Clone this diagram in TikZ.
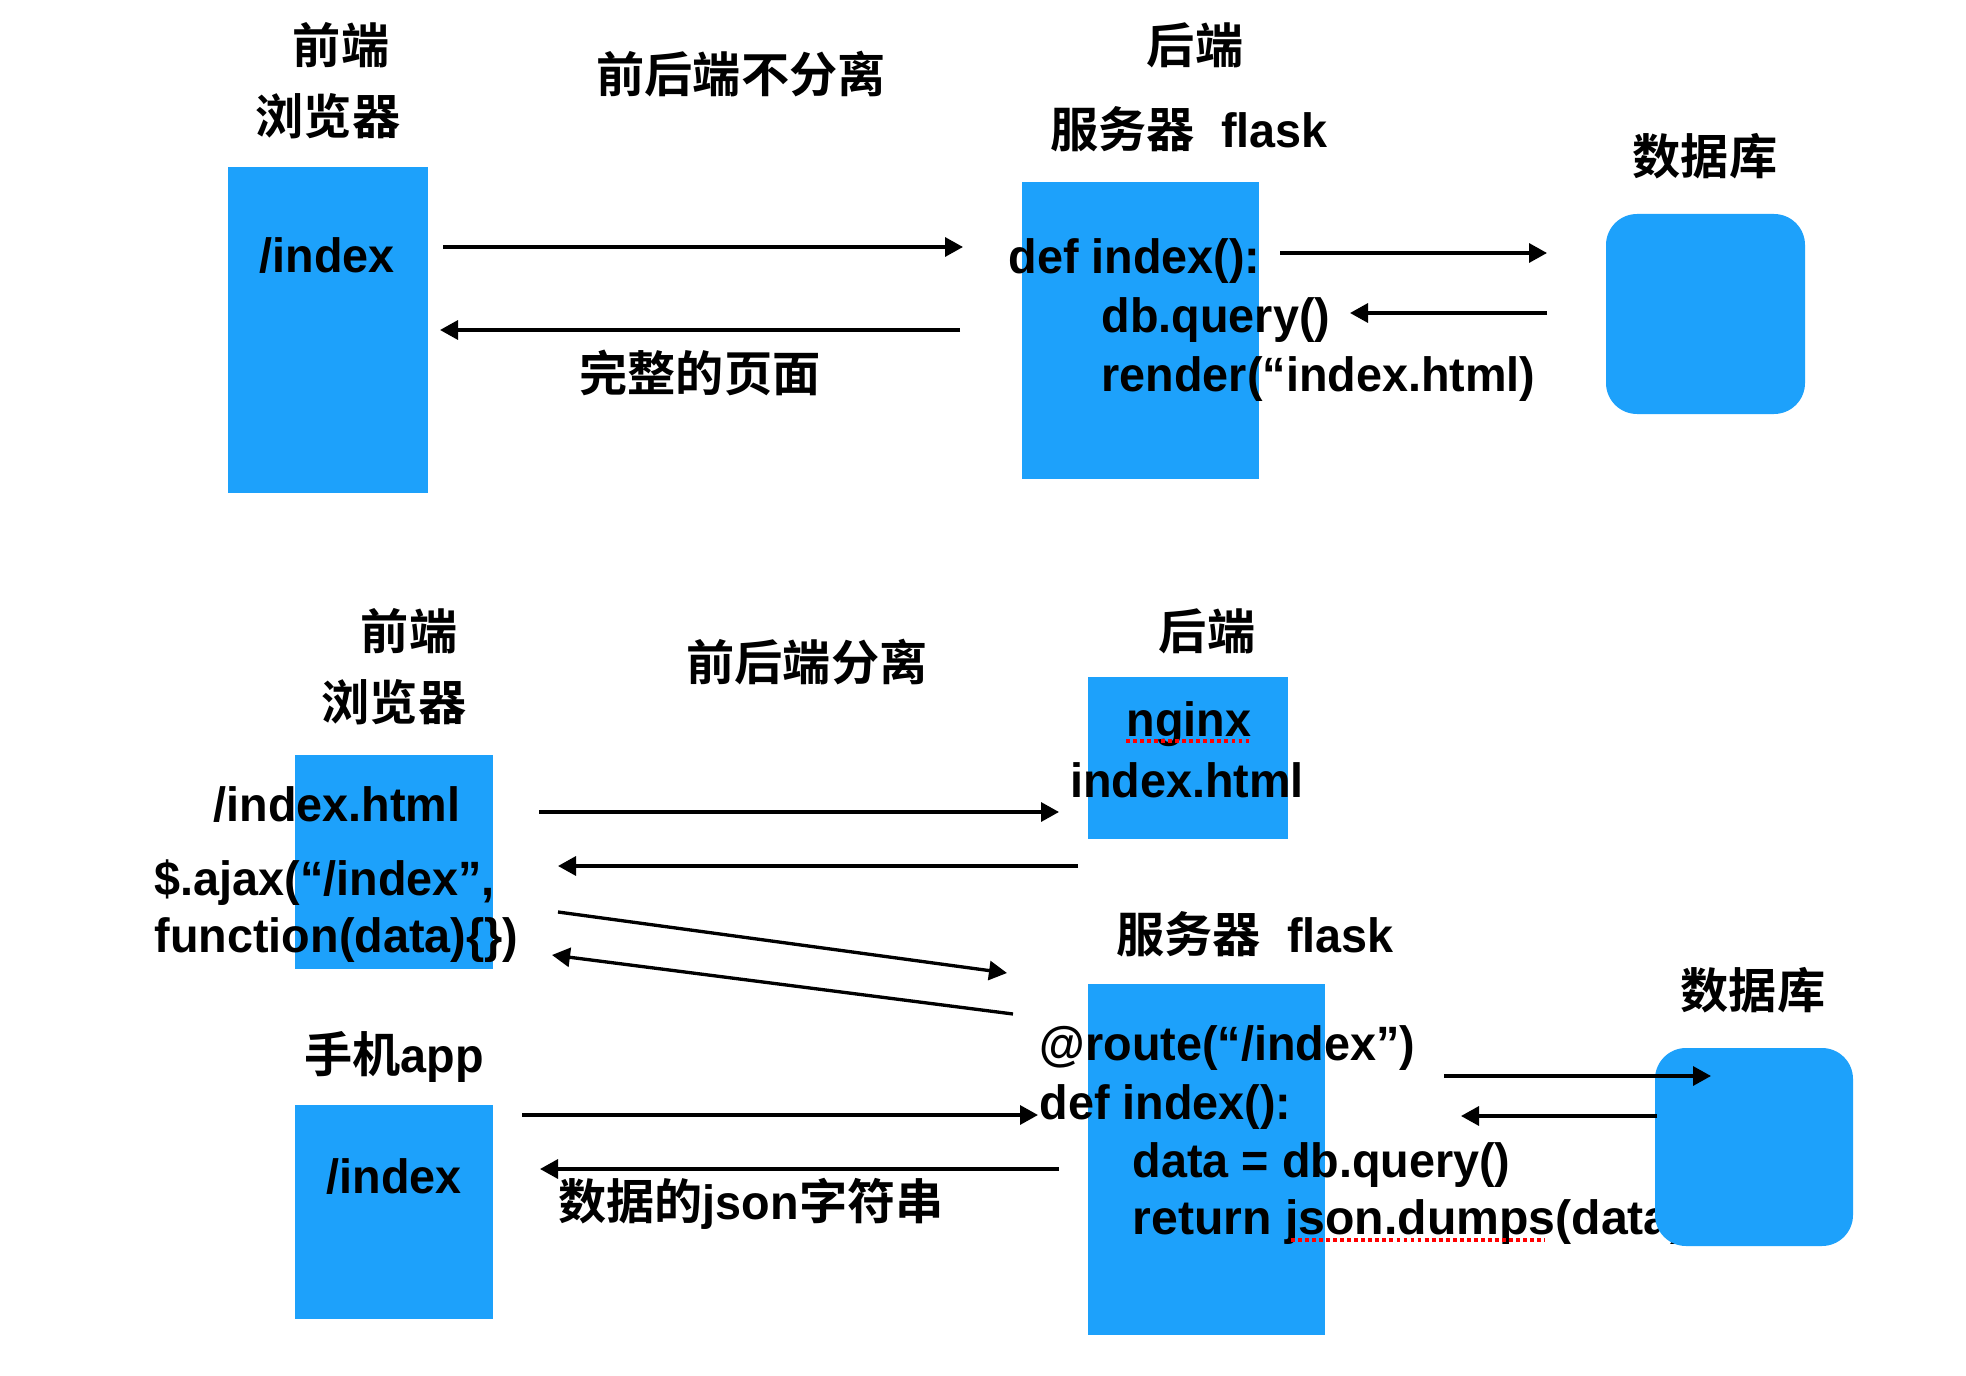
\documentclass[tikz,border=0pt]{standalone}
\usepackage{fontspec}
\setmainfont{Liberation Sans}[FakeStretch=0.97]
\newfontfamily\plainsans{Liberation Sans}
\newfontfamily\cjk{Noto Sans CJK SC}[BoldFont={Noto Sans CJK SC Bold}]
\usetikzlibrary{arrows.meta}
\definecolor{boxblue}{RGB}{29,161,251}
\newcommand{\zh}[1]{{\cjk #1}}

\tikzset{
  lbl/.style={font=\fontsize{13.7pt}{16.5pt}\selectfont\bfseries, inner sep=0pt, anchor=base},
  code/.style={lbl, anchor=base west},
  flow/.style={-{Triangle[length=0.18cm,width=0.19cm]}, line width=0.95pt},
  squiggle/.style={red, line width=0.9pt, dash pattern=on 1.1pt off 0.9pt}
}

\begin{document}
\begin{tikzpicture}[x=0.01cm,y=-0.01cm]
\fill[white] (0,0) rectangle (1966,1376);
\useasboundingbox (0,0) rectangle (1966,1376);

% without separation
\node[lbl] (feTop) at (341,64) {\zh{前端}};
\node[lbl] (browserTop) at (328,135) {\zh{浏览器}};
\fill[boxblue] (228,167) rectangle (428,493);
\node[lbl] (pageTop) at (327,272) {/index};
\node[lbl] (modeTop) at (741,93) {\zh{前后端不分离}};
\node[lbl] (completePage) at (700,392) {\zh{完整的页面}};

\node[lbl] (beTop) at (1195,64) {\zh{后端}};
\node[lbl] (serverTop) at (1189,148) {\zh{服务器}\ \ flask};
\fill[boxblue] (1022,182) rectangle (1259,479);
\node[code] (defTop) at (1008,274) {def index():};
\node[code] (queryTop) at (1101,333) {db.query()};
\node[code] (renderTop) at (1101,391) {render(“index.html)};

\node[lbl] (dbLblTop) at (1705,175) {\zh{数据库}};
\fill[boxblue, rounded corners=0.31cm] (1606,214) rectangle (1805,414);

\coordinate (reqTopA) at (443,247);
\coordinate (reqTopB) at (963,247);
\coordinate (respTopA) at (960,330);
\coordinate (respTopB) at (440,330);
\coordinate (qTopA) at (1280,253);
\coordinate (qTopB) at (1547,253);
\coordinate (rTopA) at (1547,313);
\coordinate (rTopB) at (1350,313);
\draw[flow] (reqTopA) -- (reqTopB);
\draw[flow] (respTopA) -- (respTopB);
\draw[flow] (qTopA) -- (qTopB);
\draw[flow] (rTopA) -- (rTopB);

% with separation
\node[lbl] (feBot) at (409,649) {\zh{前端}};
\node[lbl] (browserBot) at (394,720) {\zh{浏览器}};
\fill[boxblue] (295,755) rectangle (493,969);
\node[lbl] (pageBot) at (337,821) {/index.html};
\node[code] (ajaxA) at (154,895) {\$.ajax(“/index”,};
\node[code] (ajaxB) at (154,952) {function(data)\{\})};
\node[lbl] (modeBot) at (807,680) {\zh{前后端分离}};

\node[lbl] (beBot) at (1207,649) {\zh{后端}};
\fill[boxblue] (1088,677) rectangle (1288,839);
\node[lbl] (nginx) at (1189,736) {nginx};
\node[lbl] (nginxPage) at (1187,797) {index.html};

\node[lbl] (serverBot) at (1255,952) {\zh{服务器}\ \ flask};
\fill[boxblue] (1088,984) rectangle (1325,1335);
\node[code] (routeBot) at (1039,1060) {@route(“/index”)};
\node[code] (defBot) at (1039,1119) {def index():};
\node[code] (dataBot) at (1132,1177) {data = db.query()};
\node[code] (returnBot) at (1132,1234) {\plainsans return json.dumps(data)};

\node[lbl] (appLbl) at (394,1072) {\zh{手机}app};
\fill[boxblue] (295,1105) rectangle (493,1319);
\node[lbl] (appPage) at (394,1193) {/index};
\node[lbl] (jsonLbl) at (751,1219) {\zh{数据的}json\zh{字符串}};

\node[lbl] (dbLblBot) at (1753,1008) {\zh{数据库}};
\fill[boxblue, rounded corners=0.31cm] (1655,1048) rectangle (1853,1246);

% spell check marks
\coordinate (nginxU1) at (1126,741);
\coordinate (nginxU2) at (1250,741);
\coordinate (jsonU1) at (1291,1240);
\coordinate (jsonU2) at (1545,1240);
\draw[squiggle] (nginxU1) -- (nginxU2);
\draw[squiggle] (jsonU1) -- (jsonU2);

\coordinate (reqBotA) at (539,812);
\coordinate (reqBotB) at (1059,812);
\coordinate (respBotA) at (1078,866);
\coordinate (respBotB) at (558,866);
\coordinate (ajaxGoA) at (558,912);
\coordinate (ajaxGoB) at (1007,973);
\coordinate (ajaxBackA) at (1013,1014);
\coordinate (ajaxBackB) at (552,955);
\coordinate (appGoA) at (522,1115);
\coordinate (appGoB) at (1038,1115);
\coordinate (appBackA) at (1059,1169);
\coordinate (appBackB) at (540,1169);
\coordinate (qBotA) at (1444,1076);
\coordinate (qBotB) at (1711,1076);
\coordinate (rBotA) at (1657,1116);
\coordinate (rBotB) at (1461,1116);
\draw[flow] (reqBotA) -- (reqBotB);
\draw[flow] (respBotA) -- (respBotB);
\draw[flow] (ajaxGoA) -- (ajaxGoB);
\draw[flow] (ajaxBackA) -- (ajaxBackB);
\draw[flow] (appGoA) -- (appGoB);
\draw[flow] (appBackA) -- (appBackB);
\draw[flow] (qBotA) -- (qBotB);
\draw[flow] (rBotA) -- (rBotB);
\end{tikzpicture}
\end{document}
